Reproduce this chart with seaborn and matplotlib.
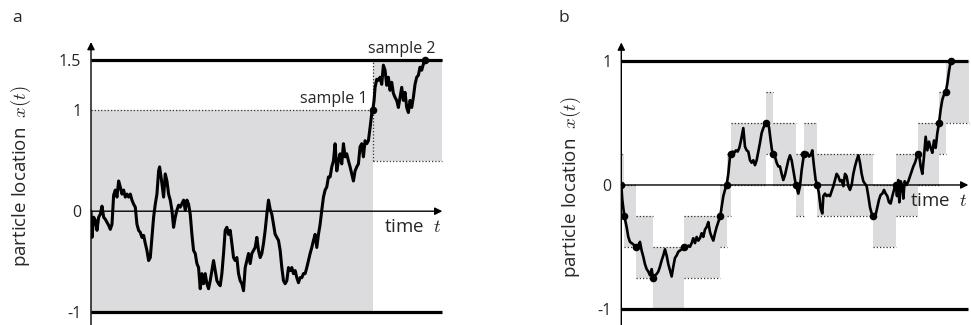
import numpy as np
import pandas as pd
import matplotlib
matplotlib.use("Agg")
import matplotlib.pyplot as plt
import seaborn as sns

# ---------------- panel a: one path, two big steps ----------------
a_t = [0, 3, 8, 13, 18, 23, 28, 33, 38, 43, 48, 53, 58, 63, 68, 73, 78, 83, 88, 93,
       98, 103, 108, 113, 118, 123, 128, 133, 138, 143, 148, 153, 158, 163, 168, 173,
       178, 183, 188, 193, 198, 203, 206, 212, 218, 223, 228, 233, 238, 243, 248, 253,
       258, 263, 268, 278, 283, 288, 293, 298, 303, 308, 313, 318, 323, 328, 333, 338,
       343, 348, 353, 358, 363, 368, 373, 378, 383, 388, 393, 398, 403, 408, 413, 418,
       423, 428, 433, 438, 443, 448, 453, 458, 463, 468, 473, 478, 483, 488, 493, 498,
       503, 508, 513, 518, 523, 528, 533, 538, 543, 548, 553, 558, 563, 568, 573, 578,
       583, 588, 593, 598, 603, 608, 613, 618, 623, 628, 633, 638, 643, 648, 653, 658,
       663, 668, 673, 678, 683, 688, 693, 698, 703, 708, 713, 718, 723, 728, 733, 738,
       743, 748, 753, 758, 763, 768, 773, 778, 783, 788, 793, 798, 803, 808, 813, 818,
       823, 828, 833, 838, 843, 846, 850, 853, 858, 863, 868, 873, 878, 883, 888, 893,
       898, 903, 908, 913, 918, 923, 928, 933, 938, 943, 948, 953, 958, 963, 968, 973,
       978, 983, 988, 993, 998, 1003]
a_x = [0, -0.26, -0.06, -0.09, -0.19, -0.06, -0.03, 0.05, -0.06, -0.08, -0.11, -0.14,
       -0.18, -0.13, 0.16, 0.21, 0.14, 0.30, 0.24, 0.17, 0.21, 0.14, 0.17, 0.14, 0.17,
       0.11, 0.07, 0.04, -0.13, -0.19, -0.21, -0.26, -0.24, -0.32, -0.39, -0.49, -0.46,
       -0.26, -0.06, 0.07, 0.17, 0.40, 0.44, 0.30, 0.14, 0.37, 0.30, 0.17, 0.11, 0.01,
       -0.16, -0.06, 0.01, 0.06, 0.04, 0.11, 0.01, 0.11, 0.07, -0.03, -0.23, -0.39,
       -0.42, -0.52, -0.56, -0.77, -0.62, -0.72, -0.62, -0.72, -0.77, -0.69, -0.59,
       -0.49, -0.59, -0.69, -0.72, -0.74, -0.62, -0.42, -0.19, -0.16, -0.23, -0.19,
       -0.32, -0.46, -0.49, -0.46, -0.62, -0.69, -0.72, -0.79, -0.56, -0.49, -0.42,
       -0.52, -0.42, -0.39, -0.36, -0.26, -0.39, -0.46, -0.42, -0.32, -0.19, -0.03,
       0.11, 0.02, -0.03, -0.13, -0.23, -0.26, -0.29, -0.39, -0.56, -0.69, -0.72, -0.69,
       -0.56, -0.59, -0.56, -0.62, -0.59, -0.66, -0.71, -0.66, -0.66, -0.62, -0.62,
       -0.56, -0.49, -0.42, -0.36, -0.29, -0.23, -0.36, -0.23, -0.13, 0.01, 0.14, 0.21,
       0.24, 0.34, 0.34, 0.44, 0.50, 0.67, 0.40, 0.50, 0.57, 0.47, 0.67, 0.54, 0.57,
       0.50, 0.44, 0.37, 0.30, 0.40, 0.44, 0.47, 0.64, 0.67, 0.54, 0.70, 0.67, 0.70,
       0.83, 0.97, 1.00, 1.10, 1.23, 1.31, 1.30, 1.33, 1.26, 1.45, 1.40, 1.25, 1.33,
       1.20, 1.28, 1.17, 1.13, 1.10, 1.03, 1.13, 1.23, 1.10, 1.18, 1.03, 0.98, 1.10,
       1.03, 1.13, 1.26, 1.33, 1.35, 1.43, 1.40, 1.46, 1.50]
a_sample_t = [846, 1003]
a_sample_x = [1.0, 1.5]
a_box_start = [0, 846]
a_box_end = [846, 1053]
a_box_lo = [-1.0, 0.5]
a_box_hi = [1.0, 1.5]
a_bounds = [-1.0, 1.5]
a_ticks = [-1, 0, 1, 1.5]
a_ticklabels = ["-1", "0", "1", "1.5"]

# ---------------- panel b: fixed 0.25 steps ----------------
b_t = [0, 3, 9, 16, 21, 26, 36, 46, 51, 56, 61, 66, 71, 76, 81, 86, 91, 95, 101, 106,
       111, 116, 121, 126, 131, 136, 141, 146, 151, 156, 161, 166, 171, 176, 181, 186,
       189, 196, 201, 206, 211, 216, 221, 226, 231, 236, 241, 246, 251, 256, 261, 266,
       271, 276, 281, 286, 291, 297, 301, 306, 311, 316, 321, 326, 329, 334, 339, 344,
       349, 354, 359, 366, 371, 376, 381, 386, 391, 396, 401, 406, 411, 416, 421, 426,
       433, 438, 443, 448, 452, 456, 461, 466, 471, 476, 481, 486, 491, 496, 501, 506,
       511, 516, 521, 524, 531, 536, 541, 548, 553, 558, 563, 568, 573, 578, 583, 588,
       593, 598, 603, 606, 611, 616, 621, 626, 631, 636, 641, 646, 651, 656, 661, 666,
       671, 676, 681, 686, 691, 696, 701, 706, 711, 716, 721, 726, 731, 736, 741, 746,
       751, 756, 763, 768, 773, 778, 783, 788, 793, 798, 803, 808, 813, 818, 823, 827,
       831, 834, 838, 842, 846, 850, 856, 861, 866, 871, 876, 881, 889, 894, 898, 903,
       908, 913, 918, 923, 928, 933, 938, 943, 948, 953, 958, 963, 968, 973, 978, 983,
       988]
b_x = [0, -0.12, -0.25, -0.34, -0.42, -0.46, -0.48, -0.51, -0.49, -0.46, -0.53, -0.58,
       -0.64, -0.68, -0.70, -0.73, -0.68, -0.75, -0.73, -0.72, -0.70, -0.66, -0.61,
       -0.57, -0.52, -0.57, -0.64, -0.69, -0.74, -0.66, -0.59, -0.57, -0.54, -0.53,
       -0.52, -0.51, -0.50, -0.51, -0.49, -0.50, -0.47, -0.43, -0.47, -0.42, -0.45,
       -0.43, -0.39, -0.42, -0.36, -0.34, -0.30, -0.38, -0.42, -0.45, -0.39, -0.34,
       -0.30, -0.25, -0.18, -0.09, -0.04, 0.0, 0.09, 0.23, 0.25, 0.27, 0.26, 0.28, 0.27,
       0.30, 0.36, 0.46, 0.31, 0.28, 0.27, 0.20, 0.18, 0.20, 0.16, 0.20, 0.27, 0.34,
       0.42, 0.46, 0.50, 0.49, 0.47, 0.36, 0.28, 0.25, 0.23, 0.18, 0.15, 0.15, 0.09,
       0.04, 0.08, 0.14, 0.20, 0.24, 0.20, 0.12, 0.04, 0.0, -0.07, -0.01, 0.12, 0.25,
       0.24, 0.26, 0.23, 0.24, 0.28, 0.15, 0.04, 0.0, -0.07, -0.19, -0.23, -0.09, -0.07,
       -0.09, -0.08, -0.09, -0.05, -0.01, 0.04, 0.09, 0.07, 0.03, 0.04, -0.01, 0.09,
       0.07, -0.01, -0.04, 0.0, 0.09, 0.15, 0.20, 0.24, 0.18, 0.09, 0.03, 0.01, -0.01,
       -0.09, -0.18, -0.23, -0.25, -0.24, -0.18, -0.12, -0.08, -0.07, -0.04, -0.07,
       -0.09, -0.14, -0.15, -0.09, -0.04, 0.0, -0.09, 0.04, -0.14, 0.03, 0.0, -0.11,
       0.03, 0.0, 0.03, 0.07, 0.11, 0.15, 0.18, 0.25, 0.23, 0.15, 0.09, 0.23, 0.39,
       0.28, 0.35, 0.30, 0.26, 0.36, 0.30, 0.42, 0.50, 0.61, 0.69, 0.73, 0.75, 0.82,
       0.92, 1.00]
b_sample_t = [0, 9, 44, 95, 189, 297, 316, 329, 433, 456, 524, 548, 588, 756, 823, 889,
              953, 973, 988]
b_sample_x = [0, -0.25, -0.5, -0.75, -0.5, -0.25, 0, 0.25, 0.5, 0.25, 0, 0.25, 0, -0.25,
              0, 0.25, 0.5, 0.75, 1.0]
b_step = 0.25
b_end = 1042
b_bounds = [-1.0, 1.0]
b_ticks = [-1, 0, 1]
b_ticklabels = ["-1", "0", "1"]

sns.set_theme(style="white")
plt.rcParams["font.family"] = ["Open Sans", "DejaVu Sans"]
plt.rcParams["mathtext.fontset"] = "cm"

GREY = "#dcdcde"
DOT = (0, (1, 1.6))

fig = plt.figure(figsize=(9.71, 3.25), dpi=100)
ax_a = fig.add_axes([91 / 971, 0, 354 / 971, 285 / 325])
ax_b = fig.add_axes([621.3 / 971, 0, 349.7 / 971, 285 / 325])


def draw_panel(ax, path_t, path_x, s_t, s_x, boxes, bounds, t_end, xlim, ylim,
               ticks, ticklabels, lw_path):
    ax.set_xlim(*xlim)
    ax.set_ylim(*ylim)
    # grey boxes with dotted edges
    for t0, t1, lo, hi in boxes:
        ax.fill_between([t0, t1], lo, hi, color=GREY, lw=0, zorder=1)
        ax.hlines([lo, hi], t0, t1, colors="#333333", linestyles=DOT, lw=0.9, zorder=2)
    # absorbing boundaries
    ax.hlines(bounds, 0, t_end, colors="black", lw=2.3, zorder=3)
    # axes arrows
    ax.annotate("", xy=(xlim[1] - 8, 0), xytext=(0, 0),
                arrowprops=dict(arrowstyle="-|>", lw=1.0, color="black",
                                mutation_scale=11, shrinkA=0, shrinkB=0), zorder=3)
    ax.annotate("", xy=(0, ylim[1] - 0.02), xytext=(0, ylim[0]),
                arrowprops=dict(arrowstyle="-|>", lw=1.0, color="black",
                                mutation_scale=11, shrinkA=0, shrinkB=0), zorder=3)
    df = pd.DataFrame({"t": path_t, "x": path_x})
    sns.lineplot(data=df, x="t", y="x", sort=False, estimator=None, color="black",
                 lw=lw_path, ax=ax, zorder=4)
    sns.scatterplot(x=s_t, y=s_x, color="black", s=30, edgecolor="black",
                    linewidth=0, ax=ax, zorder=5)
    sns.despine(ax=ax, left=True, bottom=True)
    ax.set_xticks([])
    ax.set_yticks(ticks)
    ax.set_yticklabels(ticklabels, fontsize=11.5)
    ax.tick_params(axis="y", length=0, pad=7)
    ax.set_xlabel("")
    ax.set_ylabel(r"particle location  $x(t)$", fontsize=13.5)
    ax.text(xlim[1] - 12, -0.16 * (ylim[1] - ylim[0]) / 2.83, r"time  $t$",
            ha="right", va="center", fontsize=13.5)


boxes_a = list(zip(a_box_start, a_box_end, a_box_lo, a_box_hi))
draw_panel(ax_a, a_t, a_x, a_sample_t, a_sample_x, boxes_a, a_bounds, 1053,
           (0, 1063), (-1.13, 1.70), a_ticks, a_ticklabels, 2.2)
# vertical dotted edge of the second box
ax_a.vlines(a_box_start[1], a_box_lo[1], a_box_hi[1], colors="#333333",
            linestyles=DOT, lw=0.9, zorder=2)
ax_a.text(829, 1.11, "sample 1", ha="right", va="center", fontsize=11.5)
ax_a.text(932, 1.61, "sample 2", ha="center", va="center", fontsize=11.5)
ax_a.yaxis.set_label_coords(-0.164, 0.523)

box_end_b = b_sample_t[1:-1] + [b_end]
boxes_b = [(t0, t1, x0 - b_step, x0 + b_step)
           for t0, t1, x0 in zip(b_sample_t[:-1], box_end_b, b_sample_x[:-1])]
draw_panel(ax_b, b_t, b_x, b_sample_t, b_sample_x, boxes_b, b_bounds, 1040,
           (0, 1049), (-1.132, 1.172), b_ticks, b_ticklabels, 1.9)
ax_b.yaxis.set_label_coords(-0.11, 0.484)

fig.text(12 / 971, 1 - 18 / 325, "a", fontsize=12.5, va="center")
fig.text(558 / 971, 1 - 18 / 325, "b", fontsize=12.5, va="center")

fig.savefig("out.png", dpi=100)
